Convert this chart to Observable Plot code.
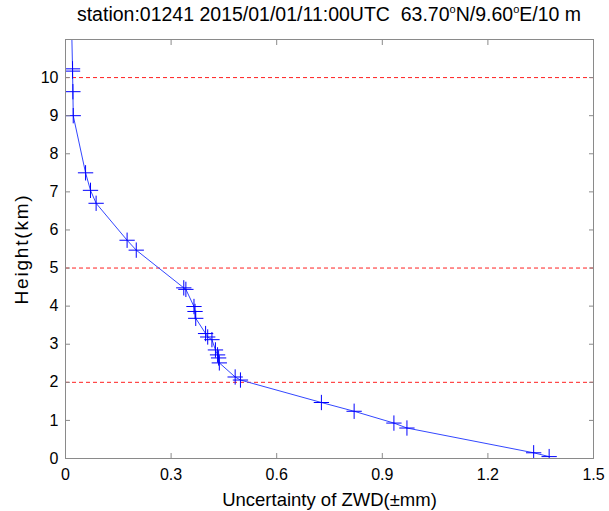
<!DOCTYPE html>
<html><head><meta charset="utf-8">
<script src="https://cdn.jsdelivr.net/npm/d3@7"></script>
<script src="https://cdn.jsdelivr.net/npm/@observablehq/plot@0.6"></script>
<style>
body{margin:0;background:#fff;}
#wrap{position:relative;width:609px;height:511px;font-family:"Liberation Sans",Arial,sans-serif;}
#title{position:absolute;top:2px;left:65px;width:528px;text-align:center;font-size:19.5px;white-space:pre;color:#000;line-height:24px;}
#title sup{font-size:11px;vertical-align:8px;line-height:0;}
#chart{position:absolute;left:0;top:0;}
g[aria-label="y-axis label"] text{letter-spacing:1.8px;}
</style></head><body>
<div id="wrap"><div id="chart"></div><div id="title">station:01241 2015/01/01/11:00UTC  63.70<sup>o</sup>N/9.60<sup>o</sup>E/10 m</div></div>
<script>
const heights = [11.5, 10.23, 10.17, 9.63, 9.00, 7.50, 7.04, 6.70, 5.73, 5.47, 4.48, 4.44, 3.99, 3.86, 3.68, 3.28, 3.19, 3.12, 2.85, 2.72, 2.64, 2.51, 2.14, 2.06, 1.47, 1.24, 0.93, 0.80, 0.15, 0.05];
const zwd     = [0.017, 0.020, 0.020, 0.021, 0.022, 0.057, 0.071, 0.087, 0.175, 0.201, 0.336, 0.342, 0.365, 0.368, 0.370, 0.398, 0.404, 0.416, 0.426, 0.432, 0.435, 0.437, 0.482, 0.497, 0.727, 0.820, 0.933, 0.970, 1.330, 1.374];
const xTicks = [0, 0.3, 0.6, 0.9, 1.2, 1.5];
const xTickLabels = ["0", "0.3", "0.6", "0.9", "1.2", "1.5"];
const yTicks = [0, 1, 2, 3, 4, 5, 6, 7, 8, 9, 10];
const refHeights = [2, 5, 10];
const xLabel = "Uncertainty of ZWD(±mm)";
const yLabel = "Height(km)";

const data = heights.map((h, i) => ({h, u: zwd[i]}));
const frameColor = "#8a8a8a";

const chart = Plot.plot({
  width: 609,
  height: 511,
  marginTop: 39,
  marginBottom: 53,
  marginLeft: 65,
  marginRight: 16,
  style: {fontFamily: "'Liberation Sans', Arial, sans-serif", color: "#000", background: "#fff"},
  x: {domain: [0, 1.5]},
  y: {domain: [0, 11]},
  marks: [
    Plot.ruleY(refHeights, {stroke: "#ff2020", strokeDasharray: "4,3", strokeWidth: 1}),
    Plot.line(data, {x: "u", y: "h", stroke: "#3347ff", strokeWidth: 1, clip: true}),
    Plot.dot(data, {x: "u", y: "h", symbol: "plus", r: 5, stroke: "#0000ff", strokeWidth: 1, clip: true}),
    Plot.axisX(xTicks, {anchor: "bottom", tickSize: -5, tickPadding: 15, stroke: frameColor, fill: "#000", fontSize: 16,
      tickFormat: (d, i) => xTickLabels[i], label: null}),
    Plot.axisX({anchor: "bottom", ticks: [], label: xLabel, labelAnchor: "center", labelArrow: "none", labelOffset: 47, fontSize: 18.5, fill: "#000"}),
    Plot.axisX(xTicks, {anchor: "top", tickSize: -5, stroke: frameColor, tickFormat: () => "", label: null}),
    Plot.axisY(yTicks, {anchor: "left", tickSize: -5, tickPadding: 12, stroke: frameColor, fill: "#000", fontSize: 16, label: null}),
    Plot.axisY({anchor: "left", ticks: [], label: yLabel, labelAnchor: "center", labelArrow: "none", labelOffset: 51, fontSize: 19, fill: "#000"}),
    Plot.axisY(yTicks, {anchor: "right", tickSize: -5, stroke: frameColor, tickFormat: () => "", label: null}),
    Plot.frame({stroke: frameColor})
  ]
});
document.getElementById("chart").appendChild(chart);
</script>
</body></html>
